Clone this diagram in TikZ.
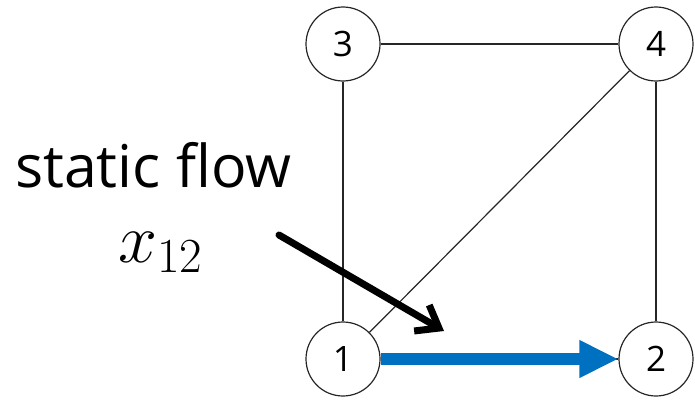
\RequirePackage{fix-cm}
\documentclass[tikz,border=0pt]{standalone}
\usepackage{fontspec}
\setmainfont{Open Sans}
\usetikzlibrary{arrows.meta}
\definecolor{cFlow}{HTML}{0070C0}
\definecolor{cLine}{HTML}{262626}
\tikzset{
    vertex/.style ={draw=cLine, circle, line width=1.2pt, minimum size=74pt,
                    inner sep=0pt, font=\fontsize{35}{40}\selectfont},
    link/.style   ={line width=1.2pt, cLine},
    flow/.style   ={-{Triangle[length=39pt, width=35pt]}, line width=12pt, cFlow},
    pointer/.style={-{Straight Barb[length=20pt, width=30pt]}, line width=7pt,
                    line cap=round, line join=round},
    note/.style   ={inner sep=0pt, anchor=base west},
}

\begin{document}
\begin{tikzpicture}[x=1pt, y=1pt]
\useasboundingbox (0,0) rectangle (695,400);

% ===================== Nodos del grafo =====================
\node[vertex] (n3) at (343,356) {3};
\node[vertex] (n4) at (656,356) {4};
\node[vertex] (n1) at (343,41) {1};
\node[vertex] (n2) at (656,41) {2};

% ===================== Aristas =====================
\draw[link] (n3) -- (n4);
\draw[link] (n3) -- (n1);
\draw[link] (n4) -- (n2);
\draw[link] (n4) -- (n1);
\draw[link] (n1) -- (n2);

% ===================== Flujo estatico =====================
\draw[flow] (n1.east) -- (n2.west);

% ===================== Etiqueta =====================
\node[note, font=\fontsize{59}{64}\selectfont] (txt) at (15,213) {static flow};
\node[note, font=\fontsize{70}{76}\selectfont] (var) at (118,138) {$x_{12}$};
\coordinate (ptr-a) at (279,165);
\coordinate (ptr-b) at (444,69);
\draw[pointer] (ptr-a) -- (ptr-b);

\end{tikzpicture}
\end{document}
